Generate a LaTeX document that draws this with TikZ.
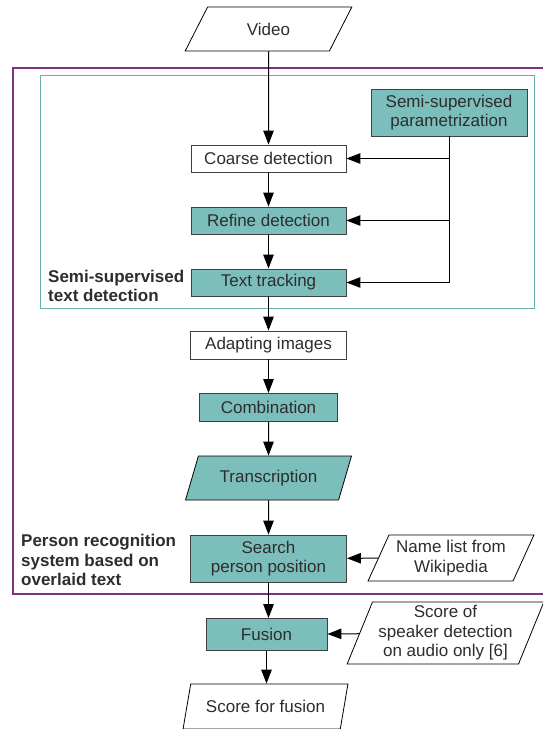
\documentclass[tikz,border=0pt]{standalone}
\usepackage{fontspec}
\setmainfont{Liberation Sans}
\usetikzlibrary{shapes.geometric}
\usetikzlibrary{arrows.meta}

\definecolor{tealfill}{RGB}{124,190,187}
\definecolor{tealframe}{RGB}{104,172,172}
\definecolor{purpleframe}{RGB}{128,48,128}
\definecolor{boxline}{RGB}{64,64,64}
\definecolor{boxtext}{RGB}{45,45,45}

\begin{document}
\begin{tikzpicture}[
    x=1pt, y=-1pt,
    font=\fontsize{17}{19.5}\selectfont,
    every node/.style={text=boxtext, align=center, inner sep=0pt},
    stage/.style={rectangle, draw=boxline, line width=0.9pt, fill=white},
    tealstage/.style={stage, fill=tealfill},
    io/.style={trapezium, trapezium stretches=true, draw=black, line width=0.8pt,
      fill=white, trapezium left angle=#1, trapezium right angle=180-#1},
    tealio/.style={io=#1, fill=tealfill},
    flow/.style={-{Triangle[length=14pt, width=10.5pt]}, line width=1pt},
    grouplabel/.style={anchor=west, align=left, font=\fontsize{17}{19.5}\selectfont\bfseries},
  ]
  \useasboundingbox (0,0) rectangle (542,729);

  % frames
  \draw[purpleframe, line width=1.2pt] (549,68) -- (13,68) -- (13,594) -- (549,594);
  \draw[tealframe, line width=1pt] (40,75) rectangle (534,308);

  \node[io=57.5, minimum width=167pt, minimum height=44pt] (video) at (268.5,29) {Video};
  \node[tealstage, minimum width=156pt, minimum height=47pt] (param) at (449,112.5)
    {Semi-supervised\\parametrization};
  \node[stage, minimum width=155pt, minimum height=27pt] (coarse) at (268.5,158.5) {Coarse detection};
  \node[tealstage, minimum width=155pt, minimum height=27pt] (refine) at (268.5,220.5) {Refine detection};
  \node[tealstage, minimum width=155pt, minimum height=27pt] (track) at (268.5,282.5) {Text tracking};
  \node[grouplabel] (semilabel) at (48,286) {Semi-supervised\\text detection};

  \node[stage, minimum width=156pt, minimum height=28pt] (adapt) at (268.5,345) {Adapting images};
  \node[tealstage, minimum width=138pt, minimum height=28pt] (combi) at (268.5,407.5) {Combination};
  \node[tealio=60.5, minimum width=166pt, minimum height=44pt] (transcr) at (268.5,478) {Transcription};
  \node[tealstage, minimum width=156pt, minimum height=47pt] (search) at (268.5,558.5)
    {Search\\person position};
  \node[io=62.4, minimum width=166pt, minimum height=46pt] (names) at (451,558)
    {Name list from\\Wikipedia};
  \node[grouplabel] (perslabel) at (21,560) {Person recognition\\system based on\\overlaid text};

  \node[tealstage, minimum width=121pt, minimum height=32pt] (fusion) at (266.5,634.5) {Fusion};
  \node[io=67, minimum width=197pt, minimum height=62pt] (speaker) at (445.5,633)
    {Score of\\speaker detection\\on audio only [6]};
  \node[io=64, minimum width=165pt, minimum height=45pt] (scorefus) at (265.5,706.5) {Score for fusion};

  % main chain
  \draw[flow] (video) -- (coarse);
  \draw[flow] (coarse) -- (refine);
  \draw[flow] (refine) -- (track);
  \draw[flow] (track) -- (adapt);
  \draw[flow] (adapt) -- (combi);
  \draw[flow] (combi) -- (transcr);
  \draw[flow] (transcr) -- (search);
  \draw[flow] (search.south) -- (search.south |- fusion.north);
  \draw[flow] (fusion.south) -- (fusion.south |- scorefus.north);

  % side inputs
  \draw[flow] (param.south) |- (track.east);
  \draw[flow] (param.south |- coarse) -- (coarse.east);
  \draw[flow] (param.south |- refine) -- (refine.east);
  \draw[flow] (names) -- (search);
  \draw[flow] (speaker) -- (fusion);
\end{tikzpicture}
\end{document}
